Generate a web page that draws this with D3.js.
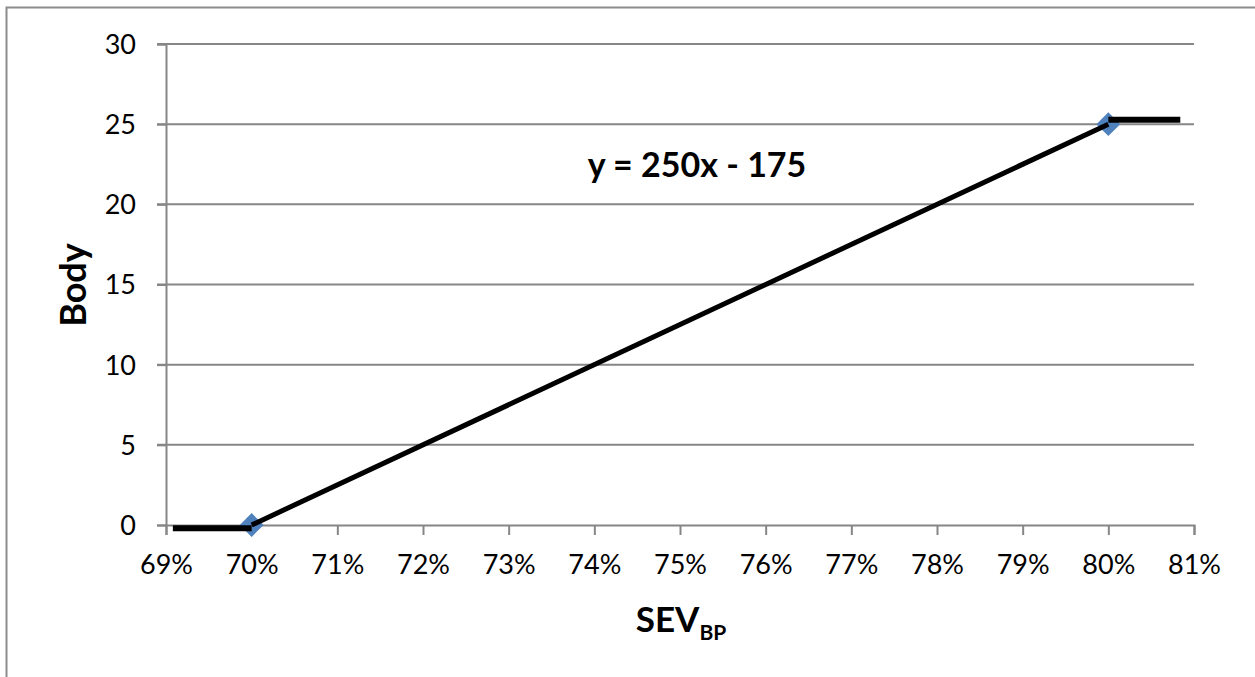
<!DOCTYPE html>
<html><head><meta charset="utf-8">
<script src="https://cdn.jsdelivr.net/npm/d3@7"></script>
<style>body{margin:0;background:#fff}svg{display:block}text{font-family:Lato,"Open Sans",sans-serif}</style>
</head><body>
<svg id="c" width="1255" height="677"></svg>
<script>
const xTicks = [0.69,0.70,0.71,0.72,0.73,0.74,0.75,0.76,0.77,0.78,0.79,0.80,0.81];
const yTicks = [0,5,10,15,20,25,30];
const markerX = [0.70, 0.80];
const markerY = [0, 25];
const lineX = [0.70, 0.80];
const lineY = [0, 25];
const flatLeftX = [0.6908, 0.70];
const flatLeftY = [-0.2, -0.2];
const flatRightX = [0.80, 0.8084];
const flatRightY = [25.27, 25.27];
const equation = "y = 250x - 175";

const svg = d3.select("#c");
const x = d3.scaleLinear().domain([0.69,0.81]).range([166,1194]);
const y = d3.scaleLinear().domain([0,30]).range([525,44]);

// outer frame
svg.append("rect").attr("x",6.5).attr("y",7.5).attr("width",1260).attr("height",700)
  .attr("fill","none").attr("stroke","#8c8c8c").attr("stroke-width",2);

// gridlines
svg.append("g").selectAll("line").data(yTicks.filter(d=>d>0)).join("line")
  .attr("x1",157).attr("x2",1194).attr("y1",d=>y(d)).attr("y2",d=>y(d))
  .attr("stroke","#868686").attr("stroke-width",2);

// y axis
const ya = svg.append("g").attr("transform","translate(166,0)")
  .call(d3.axisLeft(y).tickValues(yTicks).tickSize(9).tickPadding(21).tickFormat(d3.format("d")));
ya.select(".domain").attr("stroke","#868686").attr("stroke-width",2);
ya.selectAll(".tick line").attr("stroke","#868686").attr("stroke-width",2);
ya.selectAll("text").attr("font-size",27).attr("fill","#000").attr("dy","0.35em");

// x axis
const xa = svg.append("g").attr("transform","translate(0,525)")
  .call(d3.axisBottom(x).tickValues(xTicks).tickSize(10).tickPadding(20).tickFormat(d3.format(".0%")));
xa.select(".domain").attr("stroke","#868686").attr("stroke-width",2);
xa.selectAll(".tick line").attr("stroke","#868686").attr("stroke-width",2);
xa.selectAll("text").attr("font-size",27).attr("fill","#000");

// markers
const sym = d3.symbol().type(d3.symbolDiamond2).size(360);
svg.append("g").selectAll("path").data(markerX.map((d,i)=>[d,markerY[i]])).join("path")
  .attr("d",sym).attr("transform",d=>`translate(${x(d[0])},${y(d[1])})`).attr("fill","#4F81BD");

const ln = d3.line().x(d=>x(d[0])).y(d=>y(d[1]));
svg.append("path").datum(flatLeftX.map((d,i)=>[d,flatLeftY[i]])).attr("d",ln)
  .attr("stroke","#000").attr("stroke-width",6).attr("fill","none");
svg.append("path").datum(flatRightX.map((d,i)=>[d,flatRightY[i]])).attr("d",ln)
  .attr("stroke","#000").attr("stroke-width",6).attr("fill","none");
svg.append("path").datum(lineX.map((d,i)=>[d,lineY[i]])).attr("d",ln)
  .attr("stroke","#000").attr("stroke-width",5).attr("fill","none");

// equation
svg.append("text").attr("x",697).attr("y",177).attr("text-anchor","middle")
  .attr("font-size",34).attr("font-weight","bold").text(equation);

// y title
svg.append("text").attr("transform","translate(86,285) rotate(-90)").attr("text-anchor","middle")
  .attr("font-size",36).attr("font-weight","bold").text("Body");

// x title
const xt = svg.append("text").attr("x",681).attr("y",632).attr("text-anchor","middle")
  .attr("font-size",35).attr("font-weight","bold");
xt.append("tspan").text("SEV");
xt.append("tspan").attr("font-size",21).attr("dy",8).text("BP");
</script>
</body></html>
